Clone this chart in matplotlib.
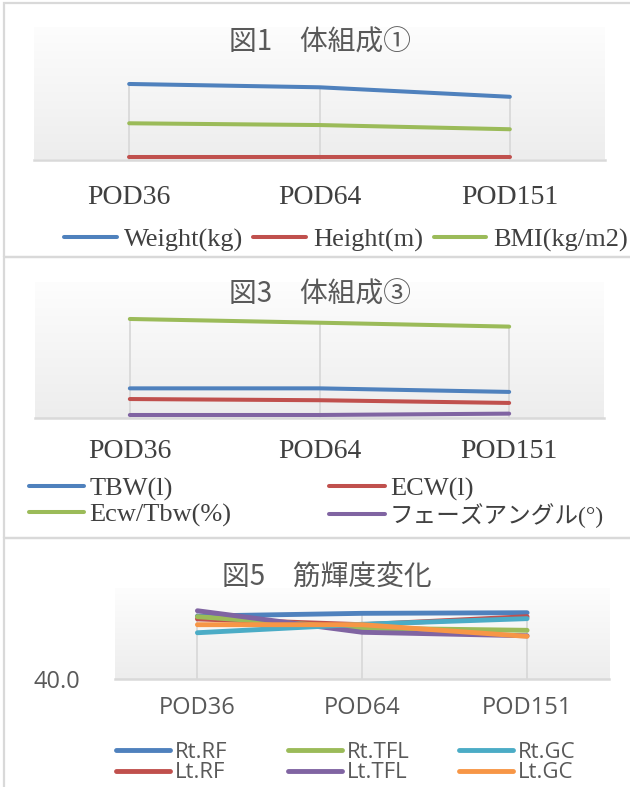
import matplotlib.pyplot as plt
import numpy as np
from matplotlib.colors import LinearSegmentedColormap
from matplotlib.patches import Rectangle

# データ
categories = ["POD36", "POD64", "POD151"]

# 図1 体組成①
weight = [34.2, 32.7, 28.4]
height_m = [1.2, 1.2, 1.2]
bmi = [16.4, 15.6, 13.7]

# 図3 体組成③
tbw = [17.3, 17.3, 15.2]
ecw = [11.0, 10.3, 8.7]
ecw_tbw = [58.2, 56.0, 53.7]
phase = [1.6, 1.6, 2.4]

# 図5 筋輝度変化
rt_rf = [81.5, 83.3, 83.7]
lt_rf = [79.6, 75.8, 81.1]
rt_tfl = [81.1, 73.5, 72.1]
lt_tfl = [85.0, 70.8, 68.5]
rt_gc = [70.5, 76.1, 79.8]
lt_gc = [75.8, 75.8, 68.1]
muscle_labels = ["Rt.RF", "Lt.RF", "Rt.TFL", "Lt.TFL", "Rt.GC", "Lt.GC"]

BLUE, RED, GREEN = "#4F81BD", "#C0504D", "#9BBB59"
PURPLE, CYAN, ORANGE = "#8064A2", "#4BACC6", "#F79646"

W, H = 630, 787
SERIF = ["Liberation Serif", "Noto Sans CJK JP"]
CJK = ["Noto Sans CJK JP", "DejaVu Sans"]
SANS = ["Open Sans", "Noto Sans CJK JP"]

fig = plt.figure(figsize=(W / 100, H / 100), dpi=100)
fig.patch.set_facecolor("white")

grad_cmap = LinearSegmentedColormap.from_list("grad", ["#fdfdfd", "#ededed"])
grad = np.linspace(0, 1, 256).reshape(-1, 1)


def px_box(x0, y0, x1, y1):
    return [x0 / W, 1 - y1 / H, (x1 - x0) / W, (y1 - y0) / H]


def panel_border(y0, y1):
    r = Rectangle((4 / W, 1 - y1 / H), 640 / W, (y1 - y0) / H, transform=fig.transFigure,
                  fill=False, edgecolor="#d9d9d9", linewidth=1.6)
    fig.add_artist(r)


def make_axes(box, ylim, series, colors, lw):
    ax = fig.add_axes(px_box(*box))
    ax.imshow(grad, extent=[0, 1, 0, 1], transform=ax.transAxes, aspect="auto",
              cmap=grad_cmap, zorder=0)
    x = np.arange(len(categories))
    # ドロップライン
    tops = np.max(np.array(series), axis=0)
    ax.vlines(x, ylim[0], tops, color="#d9d9d9", linewidth=1.3, zorder=1)
    lines = []
    for s, c in zip(series, colors):
        ln, = ax.plot(x, s, color=c, linewidth=lw, solid_capstyle="round", zorder=3)
        lines.append(ln)
    ax.set_xlim(-0.5, 2.5)
    ax.set_ylim(*ylim)
    for sp in ["top", "right", "left"]:
        ax.spines[sp].set_visible(False)
    ax.spines["bottom"].set_color("#d9d9d9")
    ax.spines["bottom"].set_linewidth(1.8)
    ax.set_xticks(x)
    ax.tick_params(length=0)
    ax.set_yticks([])
    return ax, lines


# ---- 図1 ----
panel_border(3, 257)
ax1, l1 = make_axes((34, 27, 605, 159.5), (0, 60), [weight, height_m, bmi], [BLUE, RED, GREEN], 2.9)
ax1.set_xticklabels(categories, family=SERIF, fontsize=20, color="#404040")
ax1.tick_params(axis="x", pad=18)
fig.text(320 / W, 1 - 43 / H, "図1　体組成①", ha="center", va="center", family=CJK,
         fontsize=20, color="#595959")
fig.legend(l1, ["Weight(kg)", "Height(m)", "BMI(kg/m2)"], loc="center left",
           bbox_to_anchor=(64 / W, 1 - 240 / H), ncol=3, frameon=False, borderpad=0,
           borderaxespad=0, handlelength=2.0, handletextpad=0.26, columnspacing=0.4,
           prop={"family": SERIF, "size": 19}, labelcolor="#404040")

# ---- 図3 ----
panel_border(257, 538)
ax2, l2 = make_axes((35, 282, 604, 417.7), (0, 80), [tbw, ecw, ecw_tbw, phase],
                    [BLUE, RED, GREEN, PURPLE], 2.9)
ax2.set_xticklabels(categories, family=SERIF, fontsize=20, color="#404040")
ax2.tick_params(axis="x", pad=15)
fig.text(320 / W, 1 - 295 / H, "図3　体組成③", ha="center", va="center", family=CJK,
         fontsize=20, color="#595959")
leg2 = fig.legend([l2[0], l2[2], l2[1], l2[3]], ["TBW(l)", "Ecw/Tbw(%)", "ECW(l)", "フェーズアングル(°)"],
                  loc="center left", bbox_to_anchor=(29 / W, 1 - 502.5 / H), ncol=2, frameon=False,
                  borderpad=0, borderaxespad=0, handlelength=2.1, handletextpad=0.2,
                  columnspacing=3.7, labelspacing=0.08, prop={"family": SERIF, "size": 19},
                  labelcolor="#404040")
leg2.get_texts()[3].set_fontsize(17)

# ---- 図5 ----
panel_border(538, 800)
ax3, l3 = make_axes((115, 588, 609.5, 679), (40, 100),
                    [rt_rf, lt_rf, rt_tfl, lt_tfl, rt_gc, lt_gc],
                    [BLUE, RED, GREEN, PURPLE, CYAN, ORANGE], 3.5)
ax3.set_xticklabels(categories, family=SANS, fontsize=17, color="#595959")
ax3.tick_params(axis="x", pad=12)
ax3.set_yticks([40])
ax3.set_yticklabels(["40.0"], family=SANS, fontsize=17, color="#595959")
ax3.tick_params(axis="y", pad=25)
fig.text(327 / W, 1 - 577 / H, "図5　筋輝度変化", ha="center", va="center", family=CJK,
         fontsize=20, color="#595959")
# 凡例は列ごとに配置 (Excel の等幅列)
for i, col_x in enumerate([116, 288, 459]):
    fig.legend(l3[2 * i:2 * i + 2], muscle_labels[2 * i:2 * i + 2], loc="center left",
               bbox_to_anchor=(col_x / W, 1 - 762.5 / H), frameon=False, borderpad=0,
               borderaxespad=0, handlelength=2.45, handletextpad=0.2, labelspacing=0.0,
               prop={"family": SANS, "size": 16}, labelcolor="#595959")

fig.savefig("out.png", dpi=100)
